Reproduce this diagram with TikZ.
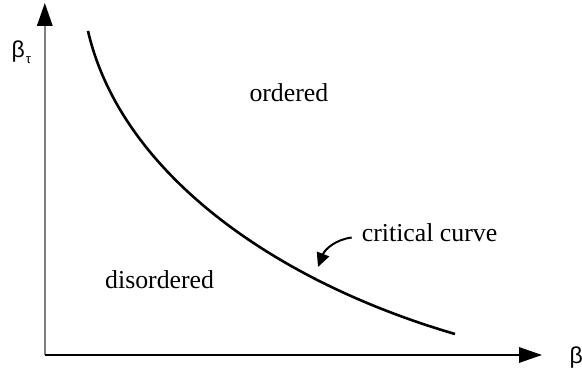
\documentclass[tikz,border=0pt]{standalone}
\usepackage{fontspec}
\setmainfont{Liberation Serif}
\newfontfamily\serfont{Liberation Serif}
\newfontfamily\betafont{Liberation Sans}
\usetikzlibrary{arrows.meta}
\begin{document}
\begin{tikzpicture}[x=1pt,y=-1pt,
  lbl/.style={anchor=base west, inner sep=0pt, font=\serfont\fontsize{25.8}{30}\selectfont},
  axlbl/.style={anchor=base west, inner sep=0pt, font=\betafont\fontsize{23}{26}\selectfont},
  axhead/.style={-{Triangle[length=23pt,width=15.5pt,color=black]}},
  critcurve/.style={line width=2.6pt, black},
  pointer/.style={line width=2pt, -{Triangle[length=14pt,width=13pt]}}]
\useasboundingbox (0,0) rectangle (582,371);
\coordinate (O) at (44.8,355);
\coordinate (ytop) at (44.8,3);
\coordinate (xend) at (542,355);
\draw[axhead, draw=gray, line width=1.8pt] (O) -- (ytop);
\draw[axhead, draw=black, line width=1.4pt] (O) -- (xend);
\coordinate (c0) at (88,31);
\coordinate (c1) at (455,334);
\draw[critcurve] (c0) .. controls (120,170) and (270,280) .. (c1);
\node[lbl] (ord) at (249.3,101.7) {ordered};
\node[lbl] (dis) at (105,288.3) {disordered};
\node[lbl] (crit) at (361.7,241.7) {critical curve};
\coordinate (ptip) at (318,267);
\draw[pointer] (351.7,237.5) .. controls (336,239.5) and (325,249) .. (ptip);
\node[axlbl] (bt) at (11.5,57.5) {β\kern1pt\raisebox{-6pt}{\fontsize{13}{14}\selectfont τ}};
\node[axlbl] (b) at (569.5,364) {β};
\end{tikzpicture}
\end{document}
